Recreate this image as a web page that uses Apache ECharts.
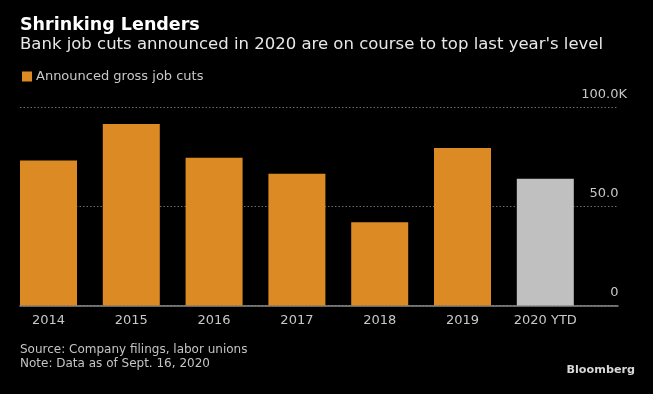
<!DOCTYPE html>
<html>
<head>
<meta charset="utf-8">
<script src="https://cdn.jsdelivr.net/npm/echarts@6/dist/echarts.min.js"></script>
<style>
html,body{margin:0;padding:0;background:#000;}
#chart{width:653px;height:394px;}
</style>
</head>
<body>
<div id="chart"></div>
<script>
const categories = ['2014', '2015', '2016', '2017', '2018', '2019', '2020 YTD'];
const jobCuts = [73.1, 91.6, 74.6, 66.5, 42.0, 79.5, 64.0];
const yTicks = [0, 50, 100];
const seriesName = 'Announced gross job cuts';

const ORANGE = '#DC8A24';
const GREY_BAR = '#C0C0C0';
const FONT = 'DejaVu Sans';

const chart = echarts.init(document.getElementById('chart'), null, {renderer: 'canvas'});

const barData = jobCuts.map((v, i) => ({
  value: v,
  itemStyle: { color: i === jobCuts.length - 1 ? GREY_BAR : ORANGE }
}));

const option = {
  backgroundColor: '#000',
  animation: false,
  textStyle: { fontFamily: FONT },
  title: [
    {
      text: 'Shrinking Lenders',
      left: 20, top: 15, padding: 0,
      textStyle: { color: '#fff', fontSize: 17.5, fontWeight: 'bold', fontFamily: FONT, lineHeight: 20 }
    },
    {
      text: "Bank job cuts announced in 2020 are on course to top last year's level",
      left: 20, top: 35, padding: 0,
      textStyle: { color: '#e8e8e8', fontSize: 16.5, fontWeight: 'normal', fontFamily: FONT, lineHeight: 20 }
    },
    {
      text: 'Source: Company filings, labor unions\nNote: Data as of Sept. 16, 2020',
      left: 20, top: 343, padding: 0,
      textStyle: { color: '#c4c4c4', fontSize: 12, fontWeight: 'normal', fontFamily: FONT, lineHeight: 14 }
    },
    {
      text: 'Bloomberg',
      right: 18, top: 363, padding: 0,
      textStyle: { color: '#d8d8d8', fontSize: 11.2, fontWeight: 'bold', fontFamily: FONT, lineHeight: 14 }
    }
  ],
  legend: {
    data: [seriesName],
    left: 22, top: 70, padding: 0,
    icon: 'rect', itemWidth: 10, itemHeight: 10, itemGap: 10,
    textStyle: { color: '#c8c8c8', fontSize: 13, fontFamily: FONT, padding: [0, 0, 0, -1] }
  },
  grid: [
    { left: 20, right: 35, top: 107.3, bottom: 88.5, containLabel: false },
    { left: 7.1, right: 66.3, top: 107.3, bottom: 88.5, containLabel: false }
  ],
  xAxis: [
    {
      type: 'category', gridIndex: 0, data: categories,
      axisLine: { show: true, lineStyle: { color: '#8a8a8a', width: 1.5 } },
      axisTick: { show: false }, axisLabel: { show: false }, splitLine: { show: false }
    },
    {
      type: 'category', gridIndex: 1, data: categories,
      axisLine: { show: false }, axisTick: { show: false },
      axisLabel: { color: '#c8c8c8', fontSize: 13, fontFamily: FONT, margin: 9 }
    }
  ],
  yAxis: [
    {
      type: 'value', gridIndex: 0, position: 'right',
      min: yTicks[0], max: yTicks[yTicks.length - 1], interval: 50,
      axisLine: { show: false }, axisTick: { show: false },
      splitLine: { show: true, lineStyle: { color: '#6a6a6a', type: [1.5, 2], width: 1 } },
      axisLabel: {
        inside: true, align: 'right', margin: -9,
        verticalAlign: 'bottom', padding: [0, 0, 6, 0],
        color: '#c8c8c8', fontSize: 13, fontFamily: FONT, lineHeight: 14,
        formatter: function (v) {
          if (v === 100) return '100.0K';
          if (v === 0) return '0{s|K}';
          return v.toFixed(1) + '{s|K}';
        },
        rich: { s: { color: 'transparent', fontSize: 13, fontFamily: FONT } }
      }
    },
    {
      type: 'value', gridIndex: 1,
      min: yTicks[0], max: yTicks[yTicks.length - 1], interval: 50,
      show: false, splitLine: { show: false }
    }
  ],
  series: [
    {
      name: seriesName, type: 'bar', xAxisIndex: 1, yAxisIndex: 1,
      barWidth: 57, itemStyle: { color: ORANGE },
      data: barData, z: 1
    }
  ]
};
chart.setOption(option);
</script>
</body>
</html>
